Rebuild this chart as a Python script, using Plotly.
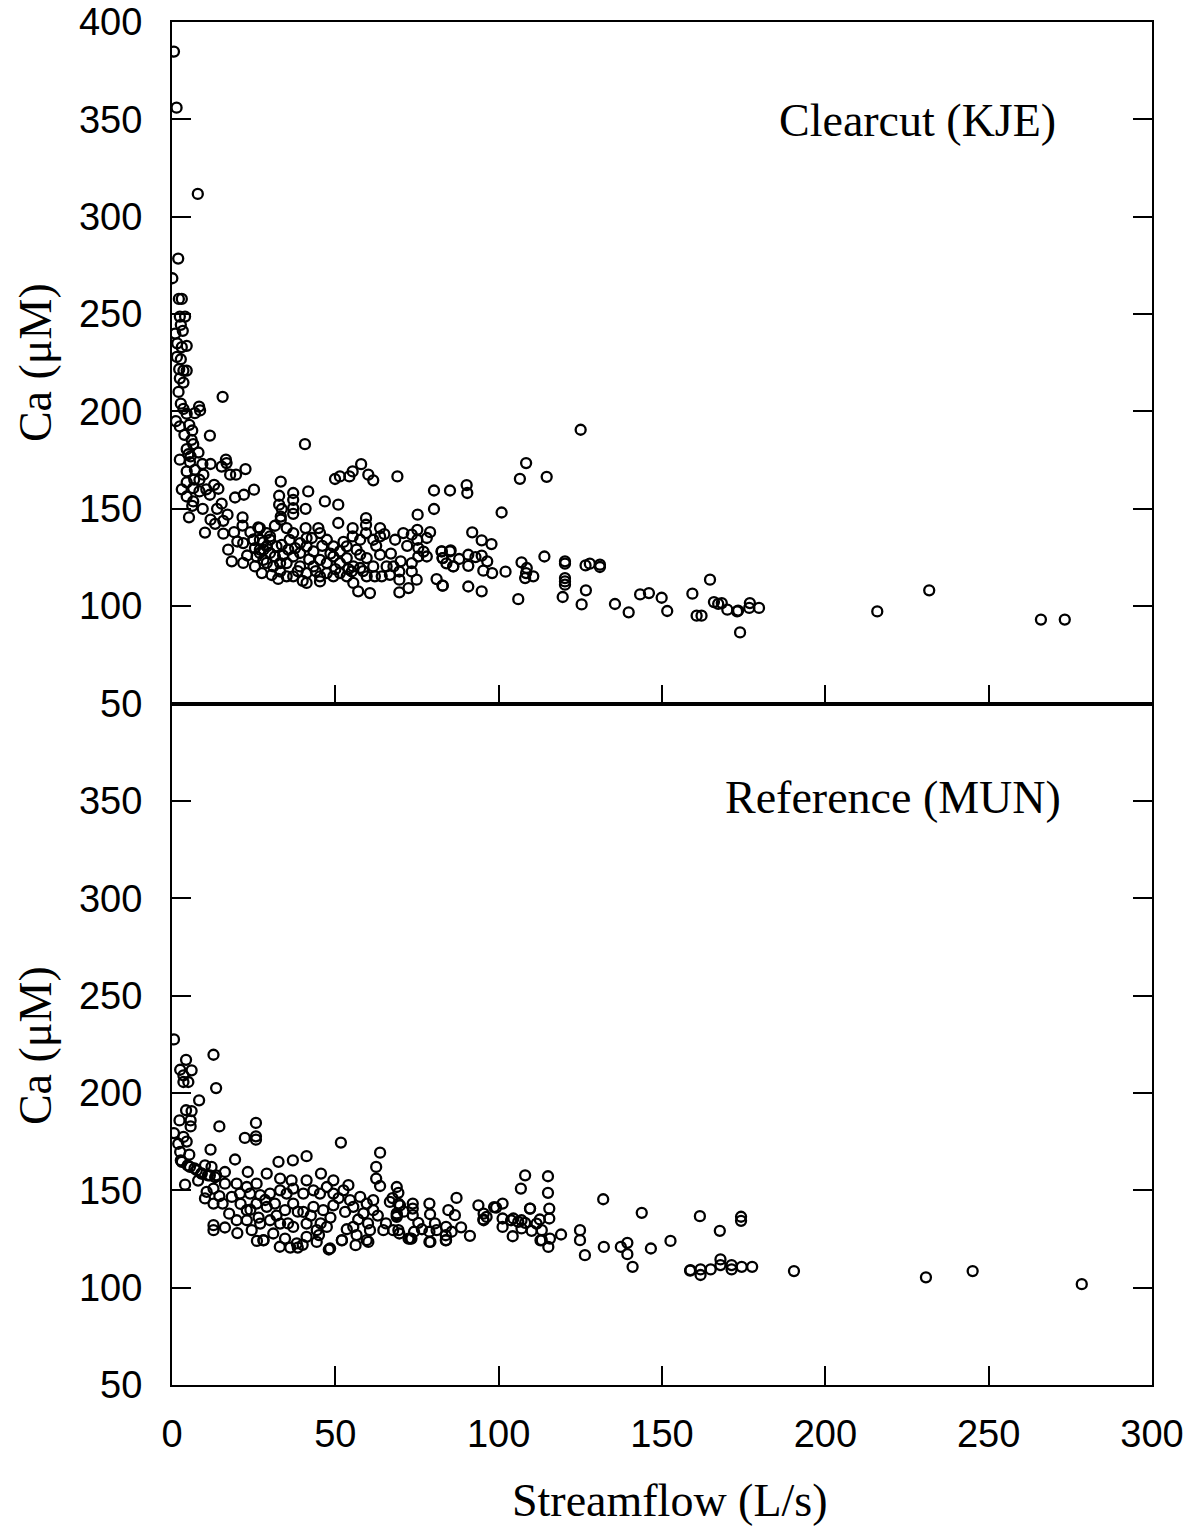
import plotly.graph_objects as go
from plotly.subplots import make_subplots

# ---------------- Clearcut (KJE) : streamflow (L/s), Ca (uM)
kje = [
(0.6,384.8),(1.4,356.0),(7.9,311.7),(1.9,278.5),(0.1,268.4),(2.1,257.8),(3.0,257.8),(2.4,248.7),(4.0,248.7),
(2.7,244.5),(3.3,241.4),(1.6,235.0),(3.0,233.0),(4.5,233.7),(2.7,226.8),(2.2,221.7),(3.5,221.0),(4.5,221.0),
(2.4,217.0),(3.5,214.8),(15.5,207.5),(2.7,204.0),(3.5,201.3),(4.5,198.8),(7.0,199.1),(8.3,202.5),(8.6,200.5),
(2.4,192.3),(5.3,193.1),(6.2,190.2),(11.6,187.6),(6.0,185.4),(6.5,183.2),(40.7,183.2),(4.5,180.6),(8.1,178.9),
(5.7,176.9),(2.4,175.2),(16.5,175.2),
(5.5,174.0),(9.3,173.0),(11.8,173.0),(15.2,171.7),(16.7,173.5),(4.5,169.2),(7.0,170.0),(17.8,167.5),
(19.6,167.5),(22.5,170.4),(9.6,167.5),(4.5,163.6),(8.4,164.9),(12.9,162.3),(6.5,160.6),(8.4,158.9),(14.2,160.3),
(11.6,157.2),(4.5,156.3),(6.5,153.8),(15.2,152.6),(19.3,155.8),(22.0,157.2),(25.1,159.8),(6.2,151.5),(9.4,150.0),
(5.2,145.6),(11.8,144.4),(15.7,143.8),(10.1,137.8),(15.7,137.2),(13.2,142.3),(21.6,145.6),(21.6,141.4),(17.2,129.0),
(18.3,123.0),(20.0,133.2),(21.8,132.4),(21.8,122.2),(25.4,120.4),(26.4,140.4),(24.9,134.1),(25.4,129.8),(26.9,127.3),
(29.0,122.2),(27.9,132.8),(30.0,135.8),(33.3,164.0),(32.8,156.7),(32.8,152.1),(33.6,149.9),(33.3,146.0),(37.1,158.1),
(37.1,154.6),(37.1,150.3),(37.1,147.4),(41.7,158.9),(40.9,150.0),(46.8,153.8),(50.9,152.1),(50.9,142.7),(49.9,165.3),
(51.4,166.6),(54.3,166.6),(55.3,169.2),(57.9,172.9),(60.1,167.5),(61.6,164.6),(69.0,166.6),(80.2,159.4),(85.1,159.4),
(80.2,149.9),(75.2,147.0),
(26.9,140.1),(29.0,137.5),(31.5,141.3),(33.3,144.4),(35.1,140.1),(37.1,137.5),(40.9,140.1),(44.8,140.1),(45.3,137.5),
(47.4,134.1),(49.4,130.7),(51.4,128.1),(53.5,130.7),(55.3,140.1),(55.3,135.8),(57.6,134.1),(59.4,145.2),(59.4,141.8),
(59.4,137.5),(61.6,134.1),(63.7,140.1),(63.7,135.8),(68.3,134.1),(70.8,137.5),(73.4,136.7),(75.1,139.2),(75.1,134.1),
(78.0,135.0),(75.4,129.8),(75.4,125.5),(78.0,125.5),(82.6,128.1),(85.1,128.1),(86.1,120.4),(82.9,124.7),(81.0,113.9),
(82.9,110.5),(73.4,122.1),(73.4,117.8),(74.9,113.6),(72.4,109.3),(69.6,107.1),(69.6,113.6),(69.6,117.8),(67.8,120.4),
(65.7,120.4),(63.7,126.4),(61.6,120.4),(59.6,124.7),(57.6,126.4),(59.6,115.3),(62.1,115.3),(64.2,115.3),(66.7,116.1),
(57.0,107.6),(60.6,106.7),(55.5,111.9),(53.5,115.3),(51.4,117.0),(49.4,115.3),(47.4,117.0),(45.3,112.7),(41.2,111.9),
(41.2,117.0),(39.2,120.4),(37.1,115.3),(35.1,115.3),(33.1,117.8),(33.1,122.1),(31.5,125.5),(30.0,127.3),(29.0,130.7),
(26.9,129.0),(25.9,125.5),(28.0,123.8),(31.0,120.4),(35.1,122.1),(37.1,125.5),(39.2,127.3),(41.2,130.7),(43.3,128.1),
(45.3,123.8),(47.4,122.1),(49.4,125.5),(51.4,122.1),(53.5,124.7),(55.5,120.4),(57.6,119.6),(55.0,117.8),(45.3,115.3),
(43.3,120.4),(42.8,135.0),(41.2,135.0),(39.2,132.4),(37.7,129.8),(35.6,129.0),(33.6,131.5),(32.0,130.7),(30.0,134.1),
(28.0,129.0),(26.9,134.1),(24.9,134.1),
(1.0,240.0),(1.5,228.0),(2.0,210.0),(1.2,195.0),(3.8,188.0),(5.0,178.0),(3.0,160.0),(6.8,165.0),(10.5,160.0),
(13.8,150.0),(17.0,147.0),(19.0,138.0),(23.0,126.0),(24.0,138.0),(27.5,117.0),(30.5,116.0),(32.5,114.0),(34.0,126.0),
(36.0,134.0),(38.5,118.0),(40.0,113.0),(42.0,124.0),(44.0,118.0),(46.0,131.0),(48.5,127.0),(50.0,119.0),(52.5,133.0),
(54.0,119.0),(56.5,129.0),(58.5,118.0),(62.5,131.0),(65.0,137.0),(67.0,127.0),(70.0,123.0),(72.0,131.0),(77.0,128.0),
(79.0,138.0),(84.0,122.0),
(125.1,190.6),(108.4,173.5),(106.5,165.4),(114.7,166.4),(90.2,162.2),(90.4,158.1),(100.9,148.1),(91.9,137.9),
(94.8,133.8),(97.8,131.9),(82.5,128.1),(85.3,128.6),(82.8,124.7),(86.1,120.4),(87.9,124.2),(90.7,126.4),(90.7,120.7),
(92.9,125.2),(94.8,125.9),(96.5,123.0),(95.3,118.2),(98.0,117.0),(102.1,117.7),(107.0,122.5),(108.6,119.6),
(108.4,117.0),(108.1,114.4),(110.6,115.3),(114.0,125.5),(90.7,110.1),(94.8,107.6),(82.8,110.5),(106.0,103.6),
(120.3,123.0),(120.3,121.8),(120.3,114.4),(120.3,112.7),(120.3,111.0),(119.6,104.7),(126.6,120.9),(127.9,121.8),
(131.0,121.3),(131.0,120.1),(126.7,108.1),(125.4,100.9),(135.6,101.1),(139.8,96.8),(143.3,106.0),(146.0,106.7),
(149.9,104.3),(151.6,97.5),(159.3,106.4),(164.7,113.6),(160.6,95.1),(162.1,95.1),(165.9,102.1),(167.2,101.2),
(168.3,101.6),(170.0,98.2),(173.0,97.3),(173.9,86.5),
(173.3,97.7),(176.9,101.6),(176.7,99.1),(179.7,99.1),(215.9,97.3),(231.8,108.1),(266.0,93.1),(273.3,93.1),
]
kje_flow = [p[0] for p in kje]
kje_ca = [p[1] for p in kje]

# ---------------- Reference (MUN)
mun = [
(0.6,227.5),(4.3,217.0),(12.7,219.6),(2.5,211.9),(6.0,211.6),(3.5,209.0),(5.0,205.6),(3.5,205.6),(13.5,202.5),
(8.3,196.2),(4.3,191.1),(6.0,190.7),(2.3,185.9),(5.7,185.9),(5.7,182.8),(14.5,182.8),(0.6,179.4),(3.5,177.4),
(25.7,184.6),(25.7,177.7),(25.7,176.0),(22.3,176.9),(1.9,173.9),(2.5,169.7),(5.3,168.3),(11.8,170.9),(19.3,165.8),
(3.0,164.6),(5.5,162.0),(7.6,160.3),(10.1,162.8),(12.1,162.0),(9.1,158.6),(11.6,157.7),(13.5,157.7),(16.2,159.4),
(32.6,164.6),(37.0,165.4),(41.2,167.5),(51.7,174.5),(63.7,169.3),(4.0,152.9),(10.6,149.2),(12.7,150.9),(16.2,153.4),
(19.8,153.4),(22.9,151.7),(23.2,159.4),(25.9,153.4),(29.0,158.6),(33.1,156.0),(36.6,155.1),(41.2,155.1),(45.6,158.6),
(49.4,155.1),(54.0,152.6),(62.5,162.0),(62.5,156.0),(63.7,152.2),(68.8,151.7),(10.1,145.8),(12.7,143.2),(15.5,143.2),
(18.3,146.6),(20.8,148.3),(23.9,148.3),(27.0,147.5),(30.0,148.3),(33.1,150.0),(35.1,148.3),(37.1,150.9),(40.2,148.3),
(43.3,150.0),(45.3,148.3),(47.4,151.7),(49.4,148.3),(52.5,150.0),(54.5,144.9),(57.6,146.6),(59.6,143.2),(61.6,144.9),
(66.7,144.0),(69.8,142.3),(68.8,138.1),(22.9,139.8),(25.9,143.2),(29.0,141.5),(31.5,143.2),(34.6,139.8),(37.1,143.2),
(40.2,138.9),(43.3,141.5),(46.3,139.8),(49.4,142.3),(53.0,138.9),(55.5,141.5),(58.6,138.1),(61.6,139.8),(12.7,132.1),
(12.7,129.5),(16.2,130.9),(19.8,134.6),(22.9,134.6),(24.4,129.5),(27.0,132.9),(28.0,124.4),(30.0,134.6),(31.0,127.8),
(33.1,132.9),(34.6,125.2),(37.1,131.2),(38.2,122.7),(41.2,132.9),(41.2,126.1),(44.3,129.5),(44.3,123.5),(47.4,131.2),
(48.4,120.1),(52.0,124.4),(55.5,131.2),(56.5,127.0),(59.6,124.4),(60.6,129.5),(64.7,129.5),(69.3,129.5),(68.8,136.3),
(72.4,125.2),
(2.7,165.4),(4.8,162.8),(6.9,161.3),(9.0,158.7),(11.0,157.7),(13.2,156.7),
(28.0,124.3),(36.2,120.6),(38.5,120.6),(48.0,119.6),(52.0,124.3),(56.2,121.8),(60.1,123.5),(73.3,125.2),(79.1,123.5),
(83.8,124.3),(83.8,126.9),
(4.5,175.0),(8.0,155.0),(14.5,147.0),(17.5,138.0),(21.0,143.0),(24.0,140.0),(26.5,136.0),(28.5,145.0),(32.0,137.0),
(35.5,133.0),(38.5,139.0),(42.5,137.0),(45.5,133.0),(48.5,136.0),(51.0,146.0),(53.5,130.0),(57.0,135.0),(60.0,133.0),
(63.0,137.0),(65.5,133.0),(67.5,146.0),(71.0,139.0),(76.5,130.0),(80.5,133.0),(88.5,131.0),(20.0,128.0),(26.0,124.0),
(33.0,121.0),(40.0,122.0),(45.0,127.0),
(69.3,148.7),(69.3,143.2),(68.8,137.2),(67.7,129.5),(69.6,127.8),(73.7,143.2),(73.7,140.6),(73.7,137.2),(75.4,133.3),
(74.1,128.7),(72.9,125.2),(78.8,143.2),(79.0,137.7),(78.8,128.7),(78.8,123.5),(81.0,129.5),(83.9,131.2),(83.9,124.4),
(84.6,139.8),(86.6,137.2),(85.6,128.7),(87.1,146.1),(91.2,126.6),(93.8,142.3),(95.3,135.0),(96.3,136.3),(99.2,141.1),
(101.2,143.2),(101.2,135.5),(101.2,131.2),(104.5,135.5),(104.3,126.4),(106.0,133.8),(107.0,130.4),(108.1,133.3),
(109.6,140.6),(110.1,129.2),(111.6,132.9),(113.2,129.5),(112.6,135.0),(115.5,135.5),(115.5,140.6),(115.1,148.7),
(115.1,157.2),(108.1,157.7),(106.8,150.9),(115.7,125.2),(115.2,120.9),(113.2,124.4),(119.1,127.3),(124.9,129.5),
(124.9,124.4),(126.4,116.7),(132.0,145.4),(132.2,120.9),(137.4,120.9),(139.4,123.0),(139.4,117.2),(143.8,138.4),
(146.6,120.1),(152.6,124.0),
(95.4,138.0),(95.4,134.6),(98.6,141.4),(103.8,134.6),(107.0,134.6),(109.6,140.6),(112.8,124.3),(141.0,110.7),
(158.7,109.0),
(161.6,136.7),(167.7,129.2),(174.2,136.4),(174.2,134.3),(158.6,108.7),(161.8,109.4),(161.8,106.5),(164.9,109.4),
(167.9,114.5),(167.9,111.6),(171.3,111.6),(171.3,109.4),(174.4,110.7),(177.6,110.7),(190.4,108.5),(230.8,105.3),
(245.1,108.5),(278.5,101.8),
]
mun_flow = [p[0] for p in mun]
mun_ca = [p[1] for p in mun]

x_ticks = [0, 50, 100, 150, 200, 250, 300]
y_ticks_top = [50, 100, 150, 200, 250, 300, 350, 400]
y_ticks_bottom = [50, 100, 150, 200, 250, 300, 350]

fig = make_subplots(rows=2, cols=1, shared_xaxes=True, vertical_spacing=0)

marker = dict(symbol="circle-open", size=10, color="black", line=dict(width=2.3, color="black"))
fig.add_trace(go.Scatter(x=kje_flow, y=kje_ca, mode="markers", marker=marker, showlegend=False), row=1, col=1)
fig.add_trace(go.Scatter(x=mun_flow, y=mun_ca, mode="markers", marker=marker, showlegend=False), row=2, col=1)

tickfont = dict(family="Liberation Sans, Arial, sans-serif", size=38, color="black")
axis_common = dict(showgrid=False, zeroline=False, showline=True, linecolor="black", linewidth=2,
                   ticks="inside", ticklen=19, tickwidth=2, tickcolor="black", tickfont=tickfont,
                   automargin=False)

fig.update_xaxes(range=[0, 300], tickvals=x_ticks, mirror=True, **axis_common)
fig.update_xaxes(showticklabels=False, row=1, col=1)
fig.update_xaxes(showticklabels=True, ticklabelstandoff=14, row=2, col=1)
fig.update_yaxes(range=[50, 400], tickvals=y_ticks_top, mirror="ticks", ticklabelstandoff=20, row=1, col=1, **axis_common)
fig.update_yaxes(range=[50, 400], tickvals=y_ticks_bottom, mirror="ticks", ticklabelstandoff=20, row=2, col=1, **axis_common)

serif = dict(family="Liberation Serif, Times New Roman, serif", size=46, color="black")
fig.add_annotation(text="Clearcut (KJE)", xref="paper", yref="paper", x=0.904, y=0.928,
                   xanchor="right", yanchor="middle", showarrow=False, font=serif)
fig.add_annotation(text="Reference (MUN)", xref="paper", yref="paper", x=0.909, y=0.4307,
                   xanchor="right", yanchor="middle", showarrow=False, font=serif)
fig.add_annotation(text="Ca (μM)", xref="paper", yref="paper", x=-0.1398, y=0.7505, textangle=-90,
                   xanchor="center", yanchor="middle", showarrow=False, font=serif)
fig.add_annotation(text="Ca (μM)", xref="paper", yref="paper", x=-0.1398, y=0.2494, textangle=-90,
                   xanchor="center", yanchor="middle", showarrow=False, font=serif)
fig.add_annotation(text="Streamflow (L/s)", xref="paper", yref="paper", x=0.508, y=-0.0844,
                   xanchor="center", yanchor="middle", showarrow=False, font=serif)

fig.update_layout(width=1196, height=1532, margin=dict(l=172, r=44, t=22, b=147, autoexpand=False),
                  paper_bgcolor="white", plot_bgcolor="white")

fig.write_html("out.html")
